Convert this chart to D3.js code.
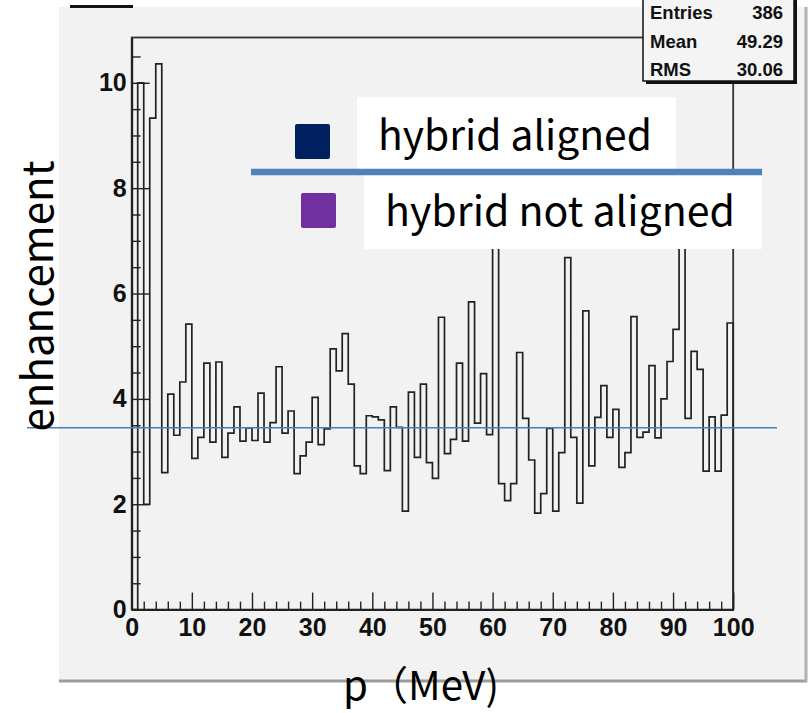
<!DOCTYPE html>
<html>
<head>
<meta charset="utf-8">
<script src="https://cdn.jsdelivr.net/npm/d3@7"></script>
<style>
  body { margin: 0; background: #fff; }
  svg { display: block; }
</style>
</head>
<body>
<div id="chart"></div>
<script>
// histogram contents, one value per 1 MeV bin (0..100)
const binValues = [
  0, 10.0, 2.0, 9.33, 10.36, 2.60, 4.09, 3.31, 4.32, 5.42,
  2.87, 3.27, 4.68, 3.18, 4.70, 2.89, 3.35, 3.85, 3.20, 3.45,
  3.21, 4.11, 3.18, 3.55, 4.61, 3.35, 3.77, 2.58, 2.92, 3.18,
  4.03, 3.13, 3.43, 4.95, 4.53, 5.24, 4.28, 2.73, 2.58, 3.68,
  3.66, 3.60, 2.64, 3.85, 3.46, 1.87, 4.13, 2.89, 4.28, 2.79,
  2.49, 5.55, 2.96, 3.23, 4.68, 3.20, 5.84, 3.54, 4.48, 3.32,
  8.0, 2.39, 2.07, 2.39, 4.88, 3.63, 2.84, 1.83, 2.20, 3.44,
  1.87, 2.98, 6.68, 3.27, 2.02, 5.67, 2.73, 3.65, 4.25, 3.27,
  3.80, 2.70, 2.98, 5.56, 3.27, 3.37, 4.63, 3.26, 4.00, 4.71,
  5.32, 7.5, 3.63, 4.90, 4.56, 2.63, 3.66, 2.63, 3.69, 5.44
];
const xMajorTicks = [0, 10, 20, 30, 40, 50, 60, 70, 80, 90, 100];
const yMajorTicks = [0, 2, 4, 6, 8, 10];
const statsNames = ["Entries", "Mean", "RMS"];
const statsValues = ["386", "49.29", "30.06"];
const legendLabels = ["hybrid aligned", "hybrid not aligned"];
const legendColors = ["#002060", "#7030a0"];
const refLineValue = 3.45;
const yMax = 10.86;

const W = 809, H = 713;
const plot = { left: 131.7, right: 733.2, top: 37.5, bottom: 609.6 };

const svg = d3.select("#chart").append("svg")
  .attr("width", W).attr("height", H);

// pad background
svg.append("rect").attr("x", 59).attr("y", 7).attr("width", 746).attr("height", 673)
  .attr("fill", "#f2f2f2");
svg.append("line").attr("x1", 59).attr("x2", 807).attr("y1", 681).attr("y2", 681)
  .attr("stroke", "#9c9c9c").attr("stroke-width", 3);
svg.append("line").attr("x1", 806).attr("x2", 806).attr("y1", 7).attr("y2", 682)
  .attr("stroke", "#b0b0b0").attr("stroke-width", 3);
// leftover title box edge
svg.append("rect").attr("x", 70).attr("y", 5).attr("width", 63).attr("height", 3).attr("fill", "#111");

const x = d3.scaleLinear().domain([0, 100]).range([plot.left, plot.right]);
const y = d3.scaleLinear().domain([0, yMax]).range([plot.bottom, plot.top]);

// frame
svg.append("rect")
  .attr("x", plot.left).attr("y", plot.top)
  .attr("width", plot.right - plot.left).attr("height", plot.bottom - plot.top)
  .attr("fill", "none").attr("stroke", "#333").attr("stroke-width", 1.8);

// histogram outline
const pts = [[0, 0]];
binValues.forEach((v, i) => { pts.push([i, v]); pts.push([i + 1, v]); });
pts.push([100, 0]);
svg.append("path")
  .datum(pts)
  .attr("d", d3.line().x(d => x(d[0])).y(d => y(d[1])))
  .attr("fill", "none").attr("stroke", "#222").attr("stroke-width", 1.7);

// axes (ROOT style: ticks point inside)
const tickFont = "'Liberation Sans', Arial, sans-serif";
function styleAxis(g) {
  g.select(".domain").attr("stroke", "#222").attr("stroke-width", 1.8);
  g.selectAll(".tick line").attr("stroke", "#222").attr("stroke-width", 1.4);
  g.selectAll("text").attr("font-family", tickFont).attr("font-weight", "bold")
    .attr("font-size", 25).attr("fill", "#111");
}
const xMinor = d3.range(0, 101, 2).filter(v => v % 10 !== 0);
svg.append("g").attr("transform", `translate(0,${plot.bottom})`)
  .call(d3.axisBottom(x).tickValues(xMinor).tickSize(-8).tickSizeOuter(0).tickFormat(""))
  .call(styleAxis);
svg.append("g").attr("transform", `translate(0,${plot.bottom})`)
  .call(d3.axisBottom(x).tickValues(xMajorTicks).tickSize(-17).tickSizeOuter(0).tickPadding(9).tickFormat(d3.format("d")))
  .call(styleAxis);

const yMinor = d3.range(0, yMax, 0.5).filter(v => v % 2 !== 0);
svg.append("g").attr("transform", `translate(${plot.left},0)`)
  .call(d3.axisLeft(y).tickValues(yMinor).tickSize(-9).tickSizeOuter(0).tickFormat(""))
  .call(styleAxis);
svg.append("g").attr("transform", `translate(${plot.left},0)`)
  .call(d3.axisLeft(y).tickValues(yMajorTicks).tickSize(-18).tickSizeOuter(0).tickPadding(5).tickFormat(d3.format("d")))
  .call(styleAxis);

// stats box
const sb = { x: 643, y: -3, w: 151, h: 84 };
svg.append("rect").attr("x", sb.x + 3).attr("y", sb.y + 3).attr("width", sb.w).attr("height", sb.h).attr("fill", "#111");
svg.append("rect").attr("x", sb.x).attr("y", sb.y).attr("width", sb.w).attr("height", sb.h)
  .attr("fill", "#f4f4f4").attr("stroke", "#111").attr("stroke-width", 1.5);
statsNames.forEach((n, i) => {
  const by = 19 + i * 28.5;
  svg.append("text").attr("x", sb.x + 7).attr("y", by).text(n)
    .attr("font-family", tickFont).attr("font-weight", "bold").attr("font-size", 18.5).attr("fill", "#111");
  svg.append("text").attr("x", sb.x + 140).attr("y", by).attr("text-anchor", "end").text(statsValues[i])
    .attr("font-family", tickFont).attr("font-weight", "bold").attr("font-size", 18.5).attr("fill", "#111");
});

// reference line
svg.append("line").attr("x1", 27).attr("x2", 777)
  .attr("y1", y(refLineValue)).attr("y2", y(refLineValue))
  .attr("stroke", "#4a7ebb").attr("stroke-width", 1.5);

// legend overlay
const labelFont = "'Noto Sans CJK JP', 'Noto Sans', sans-serif";
function fitText(t, width) {
  t.attr("font-size", 40);
  const w = t.node().getComputedTextLength();
  t.attr("font-size", 40 * width / w);
}
svg.append("rect").attr("x", 357).attr("y", 97).attr("width", 319).attr("height", 72).attr("fill", "#fff");
svg.append("rect").attr("x", 364).attr("y", 175).attr("width", 398).attr("height", 74).attr("fill", "#fff");
svg.append("line").attr("x1", 251).attr("x2", 762).attr("y1", 172).attr("y2", 172)
  .attr("stroke", "#4f81bd").attr("stroke-width", 6.5);
const legendBoxes = [{ sx: 295, sy: 124, tx: 378, ty: 150, tw: 274 },
                     { sx: 301, sy: 193, tx: 385, ty: 226, tw: 350 }];
legendLabels.forEach((lab, i) => {
  const b = legendBoxes[i];
  svg.append("rect").attr("x", b.sx).attr("y", b.sy).attr("width", 35).attr("height", 35)
    .attr("rx", 2).attr("fill", legendColors[i]);
  const t = svg.append("text").attr("x", b.tx).attr("y", b.ty).text(lab)
    .attr("font-family", labelFont).attr("fill", "#000");
  fitText(t, b.tw);
});

// axis titles
const yTitle = svg.append("text").attr("transform", "translate(53,296) rotate(-90)")
  .attr("text-anchor", "middle").text("enhancement")
  .attr("font-family", labelFont).attr("fill", "#000");
fitText(yTitle, 271);
const xTitle = svg.append("text").attr("x", 343).attr("y", 700)
  .text("p（MeV)")
  .attr("font-family", labelFont).attr("fill", "#000");
fitText(xTitle, 156);
</script>
</body>
</html>
